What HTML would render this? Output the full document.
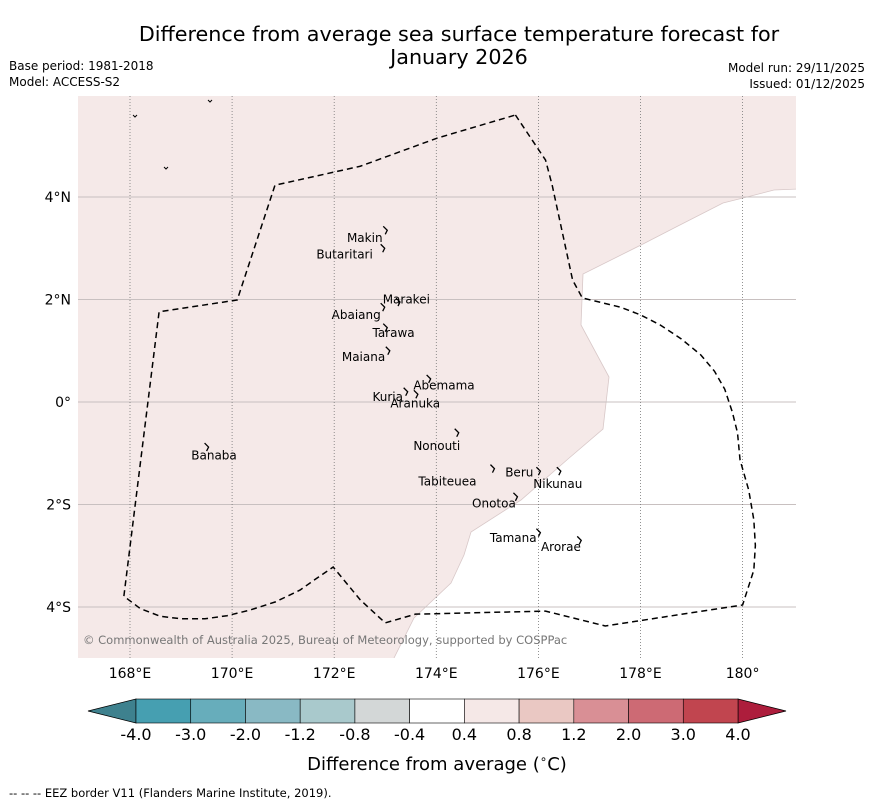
<!DOCTYPE html>
<html><head><meta charset="utf-8"><style>
body{margin:0;background:#fff;width:873px;height:804px;overflow:hidden;font-family:"DejaVu Sans","Liberation Sans",sans-serif}
</style></head><body>
<svg id="svg" width="873" height="804" xmlns="http://www.w3.org/2000/svg" font-family="DejaVu Sans, Liberation Sans, sans-serif">
<text x="459" y="41" font-size="20.7" text-anchor="middle">Difference from average sea surface temperature forecast for</text>
<text x="459" y="64" font-size="20.7" text-anchor="middle">January 2026</text>
<text x="9" y="70" font-size="12">Base period: 1981-2018</text>
<text x="9" y="86" font-size="12">Model: ACCESS-S2</text>
<text x="865" y="72" font-size="12" text-anchor="end">Model run: 29/11/2025</text>
<text x="865" y="88" font-size="12" text-anchor="end">Issued: 01/12/2025</text>
<g id="map"></g>
<g id="cbar"></g>
<text x="437" y="770" font-size="18" text-anchor="middle">Difference from average (<tspan font-size="12" dy="-7">∘</tspan><tspan dy="7">C)</tspan></text>
<text x="9" y="797" font-size="11.5">--  --  -- EEZ border V11 (Flanders Marine Institute, 2019).</text>
</svg>
<script>
const NS="http://www.w3.org/2000/svg";
const lonTicks=[168,170,172,174,176,178,180];
const lonLabels=["168°E","170°E","172°E","174°E","176°E","178°E","180°"];
const latTicks=[4,2,0,-2,-4];
const latLabels=["4°N","2°N","0°","2°S","4°S"];
const eezLon=[175.55,176.14,176.27,176.67,176.86,177.61,178.0,178.39,178.8,179.18,179.45,179.65,179.80,179.90,179.95,180.12,180.22,180.25,180.22,180.0,177.31,176.14,173.59,173.0,172.51,171.98,171.6,171.33,170.85,170.35,169.9,169.47,169.0,168.59,168.2,167.88,168.57,170.10,170.84,172.51,174.02,175.55];
const eezLat=[5.60,4.72,4.23,2.38,2.03,1.85,1.70,1.50,1.23,0.92,0.60,0.25,-0.20,-0.60,-1.13,-1.72,-2.30,-2.80,-3.28,-3.96,-4.37,-4.08,-4.14,-4.31,-3.86,-3.22,-3.48,-3.67,-3.90,-4.06,-4.17,-4.23,-4.23,-4.18,-4.03,-3.79,1.76,1.99,4.23,4.60,5.15,5.60];
const islandNames=["Makin","Butaritari","Marakei","Abaiang","Tarawa","Maiana","Abemama","Kuria","Aranuka","Nonouti","Banaba","Tabiteuea","Beru","Nikunau","Onotoa","Tamana","Arorae"];
const islandLon=[173.0,172.95,173.25,172.95,173.0,173.05,173.85,173.4,173.6,174.4,169.5,175.1,176.0,176.4,175.55,176.0,176.8];
const islandLat=[3.35,3.0,1.95,1.85,1.45,1.0,0.45,0.2,0.15,-0.6,-0.88,-1.3,-1.35,-1.35,-1.85,-2.55,-2.7];
const labelLon=[172.25,171.65,172.95,171.95,172.75,172.15,173.55,172.75,173.1,173.55,169.2,173.65,175.35,175.9,174.7,175.05,176.05];
const labelLat=[3.2,2.88,2.0,1.7,1.35,0.88,0.32,0.1,-0.03,-0.86,-1.04,-1.55,-1.38,-1.6,-1.98,-2.65,-2.83];
const cbBounds=["-4.0","-3.0","-2.0","-1.2","-0.8","-0.4","0.4","0.8","1.2","2.0","3.0","4.0"];
const cbColors=["#469fb1","#67adbb","#89b9c4","#a9c9cc","#d3d7d7","#ffffff","#f5e8e7","#eac8c3","#d98f95","#cd6a74","#c1454f"];
const cbLow="#3e818e", cbHigh="#ad1d3c";

const X=lon=>130+(lon-168)*51.05, Y=lat=>402-lat*51.25;
const map=document.getElementById('map');
function mk(tag,attrs,parent){const e=document.createElementNS(NS,tag);for(const k in attrs)e.setAttribute(k,attrs[k]);(parent||map).appendChild(e);return e;}
let cp=mk('clipPath',{id:'mc'});mk('rect',{x:78,y:96,width:718,height:562},cp);
let g=mk('g',{'clip-path':'url(#mc)'});
let bg=mk('rect',{x:78,y:96,width:718,height:562,fill:'#f5e9e8'},g);


let wr=mk('polygon',{points:"800,189 774,190 747,197 723,203 676,227 643,244 583,274 581,325 609,377 603,429 568,459 521,500 471,532 464,555 451,583 414,618 393,660 800,660",fill:'#fff',stroke:'#d8c8c8','stroke-width':0.8},g);


latTicks.forEach((v,i)=>{
 let l=mk('line',{x1:78,x2:796,y1:Y(v),y2:Y(v),stroke:'#c8c0c0','stroke-width':1},g);
 
 
 let t=mk('text',{x:71,y:Y(v)+5,'font-size':14,'text-anchor':'end'});
 t.textContent=latLabels[i];
 
 
});
lonTicks.forEach((v,i)=>{
 let l=mk('line',{x1:X(v),x2:X(v),y1:96,y2:658,stroke:'#777','stroke-width':0.8,'stroke-dasharray':'1,2'},g);
 
 
 let t=mk('text',{x:X(v),y:678,'font-size':14,'text-anchor':'middle'});
 t.textContent=lonLabels[i];
 
 
});
let eez=mk('polyline',{points:eezLon.map((v,i)=>X(v)+','+Y(eezLat[i])).join(' '),fill:'none',stroke:'#000','stroke-width':1.5,'stroke-dasharray':'6,4'},g);


islandNames.forEach((n,i)=>{
 let x=X(islandLon[i]),y=Y(islandLat[i]);
 let p=mk('path',{d:`M${x-2},${y-4} L${x+2},${y} L${x},${y+4}`,fill:'none',stroke:'#000','stroke-width':1.3},g);
 
 
 let t=mk('text',{x:X(labelLon[i]),y:Y(labelLat[i])+4,'font-size':12},g);
 t.textContent=n;
 
 
});
[[135,115],[210,100],[166,167]].forEach(p=>{let e=mk('path',{d:`M${p[0]-2},${p[1]} l2,2 l2,-2`,fill:'none',stroke:'#000','stroke-width':1},g);
 
 });
let cr=mk('text',{x:83,y:644,'font-size':11.5,fill:'#777'},g);
cr.textContent="© Commonwealth of Australia 2025, Bureau of Meteorology, supported by COSPPac";



const cb=document.getElementById('cbar');
const cx0=136,cx1=738,cy=699,ch=24,bw=(cx1-cx0)/cbColors.length;
let lt=mk('polygon',{points:`${cx0},${cy} 88,${cy+ch/2} ${cx0},${cy+ch}`,fill:cbLow,stroke:'#000','stroke-width':0.8},cb);


let ht=mk('polygon',{points:`${cx1},${cy} 786,${cy+ch/2} ${cx1},${cy+ch}`,fill:cbHigh,stroke:'#000','stroke-width':0.8},cb);


cbColors.forEach((c,i)=>{
 let r=mk('rect',{x:cx0+i*bw,y:cy,width:bw,height:ch,fill:c,stroke:'#000','stroke-width':0.6},cb);
 
 
});
cbBounds.forEach((b,i)=>{
 let t=mk('text',{x:cx0+i*bw,y:740,'font-size':16,'text-anchor':'middle'},cb);
 t.textContent=b;
 
 
});
</script>
</body></html>
